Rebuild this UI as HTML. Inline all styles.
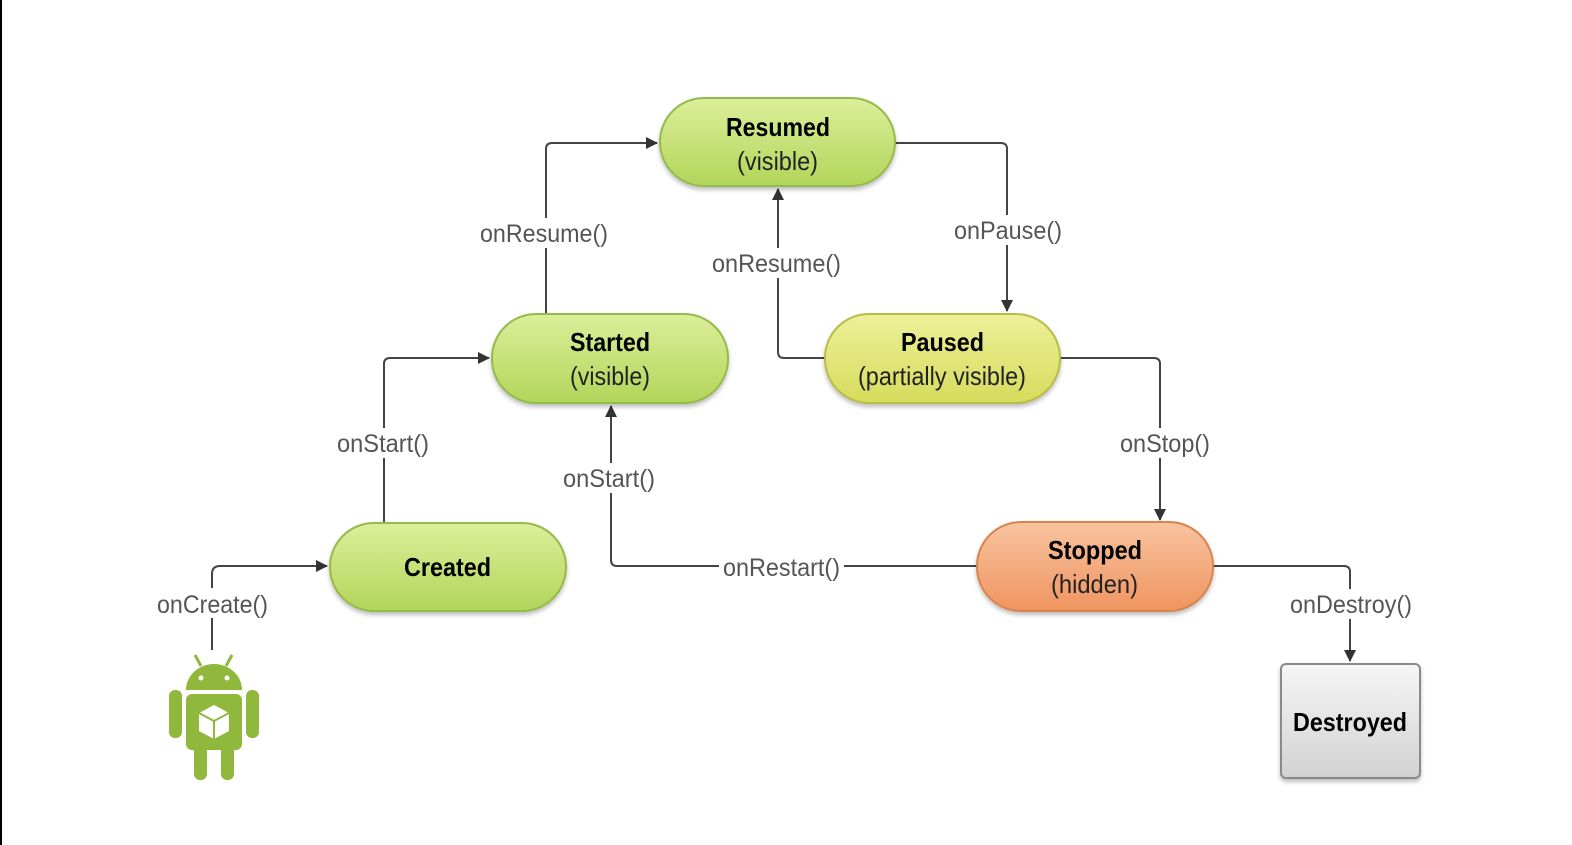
<!DOCTYPE html>
<html><head><meta charset="utf-8"><style>
html,body{margin:0;padding:0;background:#fff;}
svg{display:block;}
</style></head><body>
<svg width="1572" height="845" viewBox="0 0 1572 845" xmlns="http://www.w3.org/2000/svg" font-family="'Liberation Sans Narrow','Liberation Sans',sans-serif">
<defs>
<linearGradient id="g" x1="0" y1="0" x2="0" y2="1"><stop offset="0" stop-color="#dcef9a"/><stop offset="1" stop-color="#b2d55a"/></linearGradient>
<linearGradient id="y" x1="0" y1="0" x2="0" y2="1"><stop offset="0" stop-color="#eef09a"/><stop offset="1" stop-color="#d6dc5c"/></linearGradient>
<linearGradient id="o" x1="0" y1="0" x2="0" y2="1"><stop offset="0" stop-color="#f8c3a0"/><stop offset="1" stop-color="#ef9560"/></linearGradient>
<linearGradient id="s" x1="0" y1="0" x2="0" y2="1"><stop offset="0" stop-color="#f6f6f6"/><stop offset="1" stop-color="#d2d2d2"/></linearGradient>
<marker id="a" markerWidth="12" markerHeight="12" refX="11" refY="6" orient="auto" markerUnits="userSpaceOnUse"><path d="M0,0 L12,6 L0,12 z" fill="#333"/></marker>
<filter id="sh" x="-10%" y="-10%" width="120%" height="130%"><feDropShadow dx="0" dy="3" stdDeviation="2" flood-color="#000" flood-opacity="0.25"/></filter>
</defs>
<rect x="0" y="0" width="2" height="845" fill="#000"/>
<g fill="none" stroke="#444" stroke-width="2">
<path d="M212,650 V574 Q212,566 220,566 H327" marker-end="url(#a)"/>
<path d="M384,523 V364 Q384,358 390,358 H489" marker-end="url(#a)"/>
<path d="M546,313 V149 Q546,143 552,143 H657" marker-end="url(#a)"/>
<path d="M895,143 H1001 Q1007,143 1007,149 V311" marker-end="url(#a)"/>
<path d="M825,358 H784 Q778,358 778,352 V189" marker-end="url(#a)"/>
<path d="M1060,358 H1154 Q1160,358 1160,364 V520" marker-end="url(#a)"/>
<path d="M977,566 H617 Q611,566 611,560 V406" marker-end="url(#a)"/>
<path d="M1213,566 H1344 Q1350,566 1350,572 V661" marker-end="url(#a)"/>
</g>
<g fill="#fff">
<rect x="152" y="588" width="120" height="30"/>
<rect x="333" y="428" width="100" height="30"/>
<rect x="476" y="218" width="136" height="30"/>
<rect x="950" y="215" width="116" height="30"/>
<rect x="708" y="248" width="137" height="30"/>
<rect x="1116" y="428" width="98" height="30"/>
<rect x="719" y="552" width="125" height="30"/>
<rect x="559" y="463" width="100" height="30"/>
<rect x="1286" y="589" width="130" height="30"/>
</g>
<g fill="#555" font-size="25">
<text x="157" y="613" textLength="111" lengthAdjust="spacingAndGlyphs">onCreate()</text>
<text x="337" y="452" textLength="92" lengthAdjust="spacingAndGlyphs">onStart()</text>
<text x="480" y="242" textLength="128" lengthAdjust="spacingAndGlyphs">onResume()</text>
<text x="954" y="239" textLength="108" lengthAdjust="spacingAndGlyphs">onPause()</text>
<text x="712" y="272" textLength="129" lengthAdjust="spacingAndGlyphs">onResume()</text>
<text x="1120" y="452" textLength="90" lengthAdjust="spacingAndGlyphs">onStop()</text>
<text x="723" y="576" textLength="117" lengthAdjust="spacingAndGlyphs">onRestart()</text>
<text x="563" y="487" textLength="92" lengthAdjust="spacingAndGlyphs">onStart()</text>
<text x="1290" y="613" textLength="122" lengthAdjust="spacingAndGlyphs">onDestroy()</text>
</g>
<g filter="url(#sh)">
<rect x="660" y="98" width="235" height="88" rx="44" fill="url(#g)" stroke="#94bb4c" stroke-width="2"/>
<rect x="492" y="314" width="236" height="89" rx="44" fill="url(#g)" stroke="#94bb4c" stroke-width="2"/>
<rect x="825" y="314" width="235" height="89" rx="44" fill="url(#y)" stroke="#b8bc48" stroke-width="2"/>
<rect x="330" y="523" width="236" height="88" rx="44" fill="url(#g)" stroke="#94bb4c" stroke-width="2"/>
<rect x="977" y="522" width="236" height="89" rx="44" fill="url(#o)" stroke="#d88450" stroke-width="2"/>
<rect x="1281" y="664" width="139" height="114" rx="5" fill="url(#s)" stroke="#8a8a8a" stroke-width="2"/>
</g>
<g font-size="26" text-anchor="start">
<text x="726" y="136" font-weight="bold" textLength="104" lengthAdjust="spacingAndGlyphs">Resumed</text>
<text x="737" y="170" fill="#222" textLength="81" lengthAdjust="spacingAndGlyphs">(visible)</text>
<text x="570" y="351" font-weight="bold" textLength="80" lengthAdjust="spacingAndGlyphs">Started</text>
<text x="570" y="385" fill="#222" textLength="80" lengthAdjust="spacingAndGlyphs">(visible)</text>
<text x="901" y="351" font-weight="bold" textLength="83" lengthAdjust="spacingAndGlyphs">Paused</text>
<text x="858" y="385" fill="#222" textLength="168" lengthAdjust="spacingAndGlyphs">(partially visible)</text>
<text x="404" y="576" font-weight="bold" textLength="87" lengthAdjust="spacingAndGlyphs">Created</text>
<text x="1048" y="559" font-weight="bold" textLength="94" lengthAdjust="spacingAndGlyphs">Stopped</text>
<text x="1051" y="593" fill="#222" textLength="87" lengthAdjust="spacingAndGlyphs">(hidden)</text>
<text x="1293" y="731" font-weight="bold" textLength="114" lengthAdjust="spacingAndGlyphs">Destroyed</text>
</g>
<!-- android -->
<g fill="#8fb83c">
<line x1="195" y1="655" x2="201" y2="666" stroke="#8fb83c" stroke-width="3"/>
<line x1="232" y1="655" x2="226" y2="666" stroke="#8fb83c" stroke-width="3"/>
<path d="M186,690 A28,26 0 0 1 242,690 Z"/>
<rect x="186" y="694" width="56" height="56" rx="6"/>
<rect x="169" y="690" width="13" height="48" rx="6"/>
<rect x="246" y="690" width="13" height="48" rx="6"/>
<rect x="194" y="745" width="13" height="35" rx="6"/>
<rect x="221" y="745" width="13" height="35" rx="6"/>
</g>
<circle cx="201" cy="678" r="2.5" fill="#fff"/>
<circle cx="227" cy="678" r="2.5" fill="#fff"/>
<path d="M214,705 L229,713 L229,731 L214,739 L199,731 L199,713 Z" fill="#fff"/>
<path d="M214,721 L229,713 M214,721 L199,713 M214,721 V739" stroke="#8fb83c" stroke-width="2" fill="none"/>
</svg>
</body></html>
